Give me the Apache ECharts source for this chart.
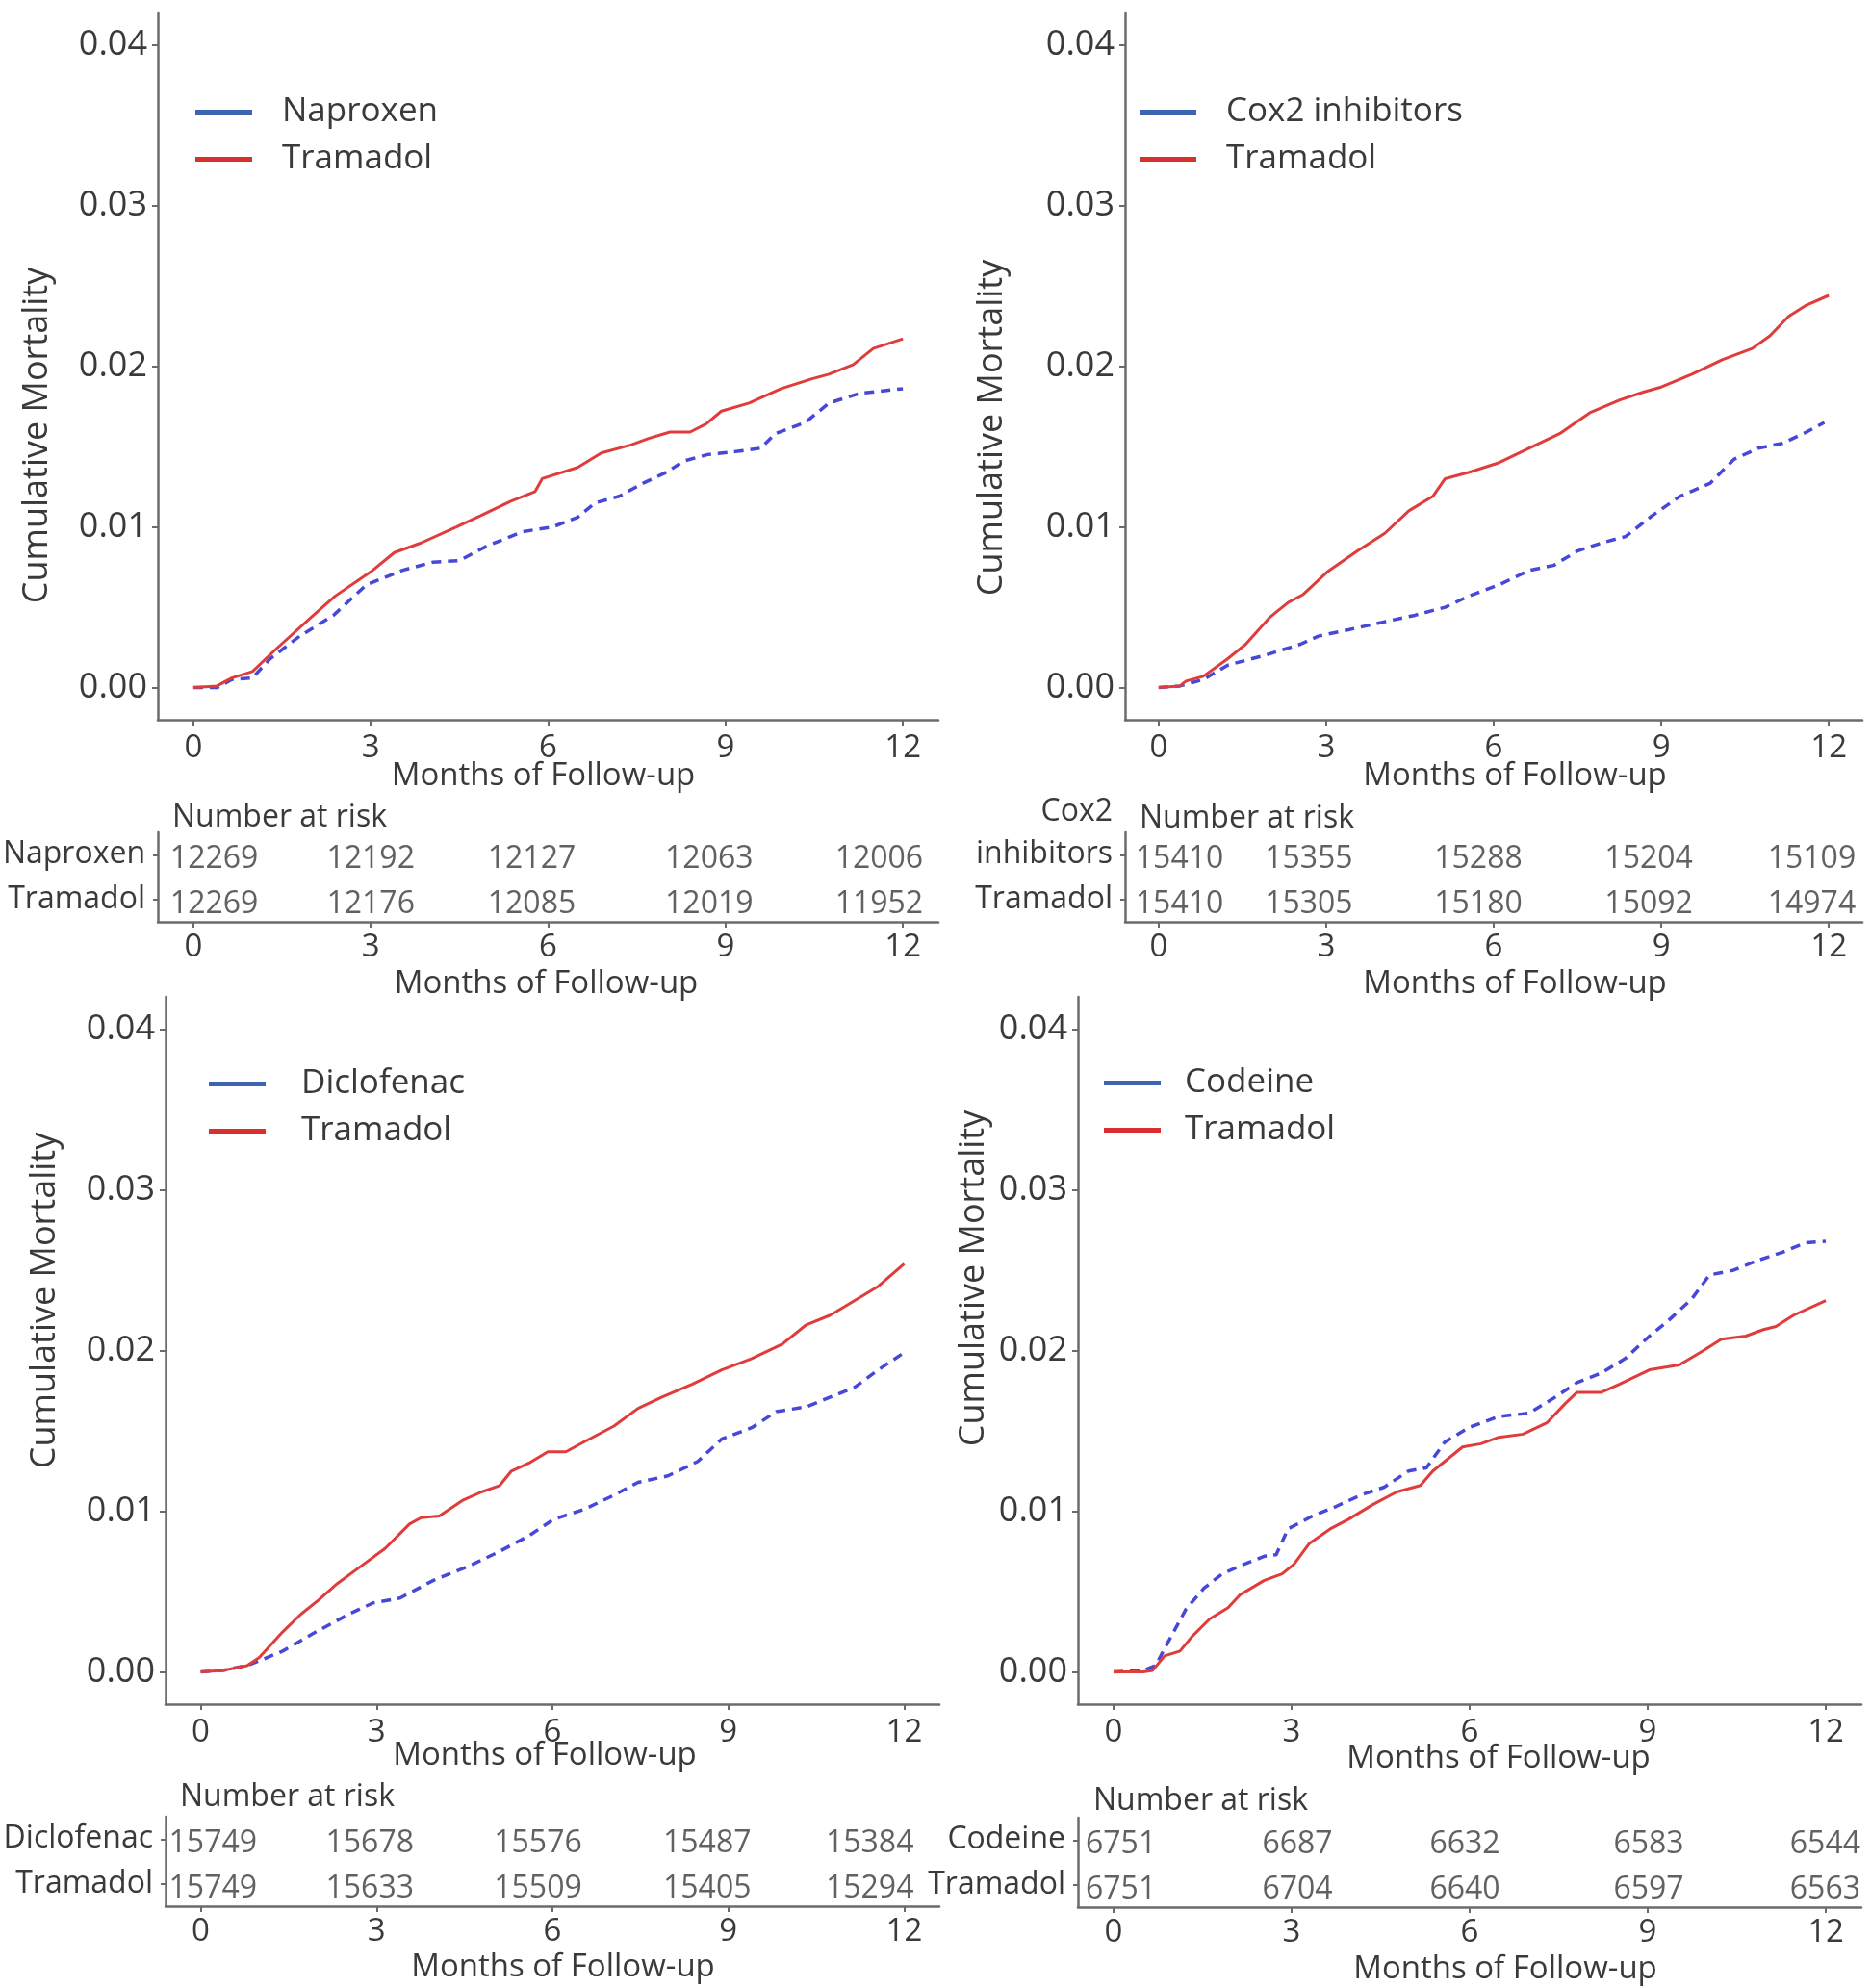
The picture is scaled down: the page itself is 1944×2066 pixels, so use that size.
<!DOCTYPE html>
<html><head><meta charset="utf-8">
<script src="https://cdn.jsdelivr.net/npm/echarts@6/dist/echarts.min.js"></script>
<style>html,body{margin:0;padding:0;background:#fff}#c{width:1944px;height:2066px}</style>
</head><body><div id="c"></div><script>
// ---------- data ----------
const monthTicks = [0, 3, 6, 9, 12];
const mortalityTicks = [0, 0.01, 0.02, 0.03, 0.04];

// Panel A
const naproxenCurve = [[0,0],[0.4,0],[0.65,0.0005],[1.0,0.0006],[1.3,0.0018],[1.8,0.0032],[2.37,0.0045],[2.93,0.0064],[3.54,0.0073],[4.05,0.0078],[4.5,0.0079],[4.96,0.0088],[5.57,0.0097],[6.08,0.0100],[6.5,0.0106],[6.8,0.0115],[7.2,0.0119],[7.6,0.0127],[8.0,0.0134],[8.3,0.0141],[8.7,0.0145],[9.2,0.0147],[9.6,0.0149],[9.84,0.0158],[10.35,0.0165],[10.75,0.0177],[11.26,0.0183],[12,0.0186]];
const tramadolCurveA = [[0,0],[0.4,0.0001],[0.65,0.0006],[1.0,0.0010],[1.4,0.0024],[2.0,0.0044],[2.4,0.0057],[3.0,0.0072],[3.4,0.0084],[3.85,0.0090],[4.45,0.0100],[4.86,0.0107],[5.37,0.0116],[5.78,0.0122],[5.9,0.0130],[6.5,0.0137],[6.9,0.0146],[7.4,0.0151],[7.7,0.0155],[8.06,0.0159],[8.4,0.0159],[8.67,0.0164],[8.93,0.0172],[9.4,0.0177],[9.94,0.0186],[10.45,0.0192],[10.75,0.0195],[11.16,0.0201],[11.5,0.0211],[12,0.0217]];
const naproxenRisk = [12269, 12192, 12127, 12063, 12006];
const tramadolRiskA = [12269, 12176, 12085, 12019, 11952];

// Panel B
const cox2Curve = [[0,0],[0.38,0.0001],[0.8,0.0005],[1.24,0.0014],[1.89,0.0020],[2.54,0.0027],[2.86,0.0032],[3.4,0.0036],[4.05,0.0041],[4.59,0.0045],[5.13,0.0050],[5.56,0.0057],[6.1,0.0064],[6.64,0.0073],[7.07,0.0076],[7.5,0.0085],[7.93,0.0090],[8.36,0.0094],[8.8,0.0106],[9.33,0.0119],[9.87,0.0127],[10.3,0.0142],[10.74,0.0149],[11.17,0.0152],[11.6,0.0159],[11.92,0.0165]];
const tramadolCurveB = [[0,0],[0.38,0.0001],[0.49,0.0004],[0.8,0.0007],[1.24,0.0018],[1.56,0.0027],[2.0,0.0044],[2.32,0.0053],[2.59,0.0058],[3.02,0.0072],[3.56,0.0085],[4.05,0.0096],[4.48,0.0110],[4.91,0.0119],[5.13,0.0130],[5.56,0.0134],[6.1,0.0140],[6.64,0.0149],[7.18,0.0158],[7.72,0.0171],[8.26,0.0179],[8.69,0.0184],[9.0,0.0187],[9.55,0.0195],[10.09,0.0204],[10.63,0.0211],[10.95,0.0219],[11.28,0.0231],[11.6,0.0238],[12,0.0244]];
const cox2Risk = [15410, 15355, 15288, 15204, 15109];
const tramadolRiskB = [15410, 15305, 15180, 15092, 14974];

// Panel C
const diclofenacCurve = [[0,0],[0.38,0.0001],[0.79,0.0004],[1.0,0.0007],[1.4,0.0013],[1.92,0.0024],[2.53,0.0036],[2.94,0.0043],[3.4,0.0046],[3.97,0.0057],[4.58,0.0066],[5.1,0.0075],[5.61,0.0085],[6.02,0.0095],[6.53,0.0101],[7.05,0.0110],[7.46,0.0118],[7.97,0.0122],[8.48,0.0131],[8.89,0.0145],[9.4,0.0152],[9.82,0.0162],[10.33,0.0165],[10.74,0.0171],[11.15,0.0177],[11.56,0.0188],[11.97,0.0198]];
const tramadolCurveC = [[0,0],[0.38,0.0001],[0.79,0.0004],[1.0,0.0009],[1.4,0.0025],[1.71,0.0036],[2.02,0.0045],[2.33,0.0055],[2.74,0.0066],[3.15,0.0077],[3.56,0.0092],[3.76,0.0096],[4.07,0.0097],[4.48,0.0107],[4.79,0.0112],[5.1,0.0116],[5.3,0.0125],[5.6,0.0130],[5.92,0.0137],[6.23,0.0137],[6.53,0.0143],[7.05,0.0153],[7.46,0.0164],[7.87,0.0171],[8.38,0.0179],[8.89,0.0188],[9.4,0.0195],[9.92,0.0204],[10.33,0.0216],[10.74,0.0222],[11.15,0.0231],[11.56,0.0240],[12,0.0254]];
const diclofenacRisk = [15749, 15678, 15576, 15487, 15384];
const tramadolRiskC = [15749, 15633, 15509, 15405, 15294];

// Panel D
const codeineCurve = [[0,0],[0.5,0.0001],[0.71,0.0004],[0.91,0.0018],[1.22,0.0039],[1.52,0.0052],[1.83,0.0061],[2.13,0.0066],[2.54,0.0072],[2.74,0.0073],[2.94,0.0089],[3.35,0.0097],[3.75,0.0103],[4.16,0.0110],[4.56,0.0115],[4.97,0.0125],[5.27,0.0127],[5.58,0.0143],[5.98,0.0152],[6.49,0.0159],[7.0,0.0161],[7.4,0.0170],[7.81,0.0180],[8.22,0.0186],[8.62,0.0195],[9.03,0.0209],[9.33,0.0218],[9.74,0.0232],[10.04,0.0247],[10.45,0.0250],[10.85,0.0256],[11.26,0.0261],[11.66,0.0267],[12,0.0268]];
const tramadolCurveD = [[0,0],[0.5,0],[0.66,0.0001],[0.86,0.0010],[1.12,0.0013],[1.32,0.0022],[1.62,0.0033],[1.93,0.0040],[2.13,0.0048],[2.54,0.0057],[2.84,0.0061],[3.04,0.0067],[3.3,0.0080],[3.65,0.0089],[3.96,0.0095],[4.36,0.0104],[4.77,0.0112],[5.17,0.0116],[5.38,0.0125],[5.68,0.0134],[5.88,0.0140],[6.19,0.0142],[6.49,0.0146],[6.9,0.0148],[7.3,0.0155],[7.61,0.0167],[7.81,0.0174],[8.22,0.0174],[8.52,0.0179],[9.03,0.0188],[9.53,0.0191],[9.94,0.0200],[10.24,0.0207],[10.65,0.0209],[10.95,0.0213],[11.16,0.0215],[11.46,0.0222],[12,0.0231]];
const codeineRisk = [6751, 6687, 6632, 6583, 6544];
const tramadolRiskD = [6751, 6704, 6640, 6597, 6563];

const comparatorNames = ['Naproxen', 'Cox2 inhibitors', 'Diclofenac', 'Codeine'];
const referenceName = 'Tramadol';

// ---------- layout ----------
const FONT = 'Open Sans';
const AX = '#6b6b6b';
const TXT = '#3a3a3a';
const BLUE_LINE = '#4848d8';
const BLUE_KEY = '#3d64b0';
const RED = '#e03c3c';
const RISK_ALIGN = ['left', 'center', 'center', 'center', 'right'];

const panels = [
  { comp: comparatorNames[0], compCurve: naproxenCurve, refCurve: tramadolCurveA, compRisk: naproxenRisk, refRisk: tramadolRiskA,
    grid: {left:164, width:811, top:13, height:735}, table: {top:865, height:93},
    legend: {left:203, top:99, gap:26}, yNameGap:107, yNamePad:[0,144,0,0], xNamePad:[0,10,0,0], xNameGap:42,
    tNamePad:[0,4,0,0], tNameGap:48, risk: {left:179, top:834}, riskShift: [-24, 0, -17, -17, 21] },
  { comp: comparatorNames[1], compCurve: cox2Curve, refCurve: tramadolCurveB, compRisk: cox2Risk, refRisk: tramadolRiskB,
    grid: {left:1169, width:766, top:13, height:735}, table: {top:865, height:93},
    legend: {left:1184, top:99, gap:26}, yNameGap:120, yNamePad:[0,128,0,0], xNamePad:[0,0,0,44], xNameGap:42,
    tNamePad:[0,0,0,44], tNameGap:48, risk: {left:1184, top:835}, riskShift: [-24, -18, -16, -13, 28] },
  { comp: comparatorNames[2], compCurve: diclofenacCurve, refCurve: tramadolCurveC, compRisk: diclofenacRisk, refRisk: tramadolRiskC,
    grid: {left:172, width:804, top:1036, height:735}, table: {top:1888, height:93},
    legend: {left:217, top:1109, gap:32}, yNameGap:107, yNamePad:[0,0,0,104], xNamePad:[0,16,0,0], xNameGap:37,
    tNamePad:[0,0,0,22], tNameGap:47, risk: {left:187, top:1852}, riskShift: [-33, -7, -15, -22, 10] },
  { comp: comparatorNames[3], compCurve: codeineCurve, refCurve: tramadolCurveD, compRisk: codeineRisk, refRisk: tramadolRiskD,
    grid: {left:1120, width:814, top:1036, height:735}, table: {top:1889, height:93},
    legend: {left:1147, top:1108, gap:20}, yNameGap:90, yNamePad:[0,0,0,150], xNamePad:[0,0,0,60], xNameGap:40,
    tNamePad:[0,0,0,74], tNameGap:48, risk: {left:1136, top:1856}, riskShift: [-29, 6, -5, 1, 36] }
];

const grid = [], xAxis = [], yAxis = [], series = [], legend = [], title = [];
const axisLineStyle = {color: AX, width: 2.5};

panels.forEach((p) => {
  grid.push(Object.assign({}, p.grid, {outerBoundsMode: 'none', containLabel: false}));
});
panels.forEach((p) => {
  grid.push({left: p.grid.left, width: p.grid.width, top: p.table.top, height: p.table.height, outerBoundsMode: 'none', containLabel: false});
});

function monthAxis(gi, nameGap, namePad, labelMargin) {
  return {
    type: 'value', gridIndex: gi, min: -0.6, max: 12.6,
    axisLine: {show: true, onZero: false, lineStyle: axisLineStyle},
    axisTick: {show: true, length: 6, customValues: monthTicks, lineStyle: {color: AX, width: 2}},
    axisLabel: {show: true, customValues: monthTicks, fontSize: 33, color: TXT, fontFamily: FONT, margin: labelMargin,
      showMinLabel: true, showMaxLabel: true, hideOverlap: false},
    splitLine: {show: false},
    name: 'Months of Follow-up', nameLocation: 'middle', nameGap: nameGap, nameMoveOverlap: false,
    nameTextStyle: {fontSize: 33, color: TXT, fontFamily: FONT, padding: namePad}
  };
}

panels.forEach((p, i) => {
  xAxis.push(monthAxis(i, p.xNameGap, p.xNamePad, 13));
  yAxis.push({
    type: 'value', gridIndex: i, min: -0.002, max: 0.042,
    axisLine: {show: true, onZero: false, lineStyle: axisLineStyle},
    axisTick: {show: true, length: 6, customValues: mortalityTicks, lineStyle: {color: AX, width: 2}},
    axisLabel: {show: true, customValues: mortalityTicks, formatter: v => Number(v).toFixed(2), fontSize: 36, color: TXT,
      fontFamily: FONT, margin: 11, showMinLabel: true, showMaxLabel: true},
    splitLine: {show: false},
    name: 'Cumulative Mortality', nameLocation: 'middle', nameGap: p.yNameGap, nameMoveOverlap: false,
    nameTextStyle: {fontSize: 36, color: TXT, fontFamily: FONT, padding: p.yNamePad}
  });
});

panels.forEach((p, i) => {
  xAxis.push(monthAxis(4 + i, p.tNameGap, p.tNamePad, 10));
  yAxis.push({
    type: 'category', gridIndex: 4 + i, data: [referenceName, p.comp], boundaryGap: true,
    axisLine: {show: true, onZero: false, lineStyle: axisLineStyle},
    axisTick: {show: true, alignWithLabel: true, length: 5, lineStyle: {color: AX, width: 2}},
    axisLabel: {show: true, fontSize: 32, color: TXT, fontFamily: FONT, margin: 13, lineHeight: 44, interval: 0,
      formatter: v => v === 'Cox2 inhibitors' ? 'Cox2\ninhibitors\n ' : v},
    splitLine: {show: false}
  });
});

panels.forEach((p, i) => {
  series.push({
    type: 'line', name: p.comp, xAxisIndex: i, yAxisIndex: i, data: p.compCurve,
    symbol: 'none', animation: false, silent: true, z: 2,
    lineStyle: {color: BLUE_LINE, width: 3.5, type: [10, 7]}, itemStyle: {color: BLUE_LINE}
  });
  series.push({
    type: 'line', name: referenceName, xAxisIndex: i, yAxisIndex: i, data: p.refCurve,
    symbol: 'none', animation: false, silent: true, z: 3,
    lineStyle: {color: RED, width: 3}, itemStyle: {color: RED}
  });
  const rows = [[p.comp, p.compRisk], [referenceName, p.refRisk]];
  const tableData = [];
  rows.forEach(([rowName, vals]) => {
    vals.forEach((n, j) => {
      tableData.push({
        value: [monthTicks[j], rowName, n],
        label: {align: RISK_ALIGN[j], offset: [p.riskShift[j], 5]}
      });
    });
  });
  series.push({
    type: 'scatter', xAxisIndex: 4 + i, yAxisIndex: 4 + i, data: tableData, symbolSize: 1,
    itemStyle: {color: 'rgba(0,0,0,0)'}, animation: false, silent: true,
    label: {show: true, position: 'inside', formatter: q => String(q.value[2]), fontSize: 32, color: TXT, fontFamily: FONT}
  });
  legend.push({
    orient: 'vertical', left: p.legend.left, top: p.legend.top, padding: 0, itemGap: 14,
    itemWidth: 59, itemHeight: 5, selectedMode: false,
    textStyle: {fontSize: 35, color: TXT, fontFamily: FONT, padding: [0, 0, 0, p.legend.gap]},
    data: [
      {name: p.comp, icon: 'rect', itemStyle: {color: BLUE_KEY}, lineStyle: {color: BLUE_KEY, width: 5, type: 'solid'}},
      {name: referenceName, icon: 'rect', itemStyle: {color: '#d9302f'}, lineStyle: {color: '#d9302f', width: 5, type: 'solid'}}
    ]
  });
  title.push({
    text: 'Number at risk', left: p.risk.left, top: p.risk.top, padding: 0,
    textStyle: {fontSize: 32, fontWeight: 'normal', color: TXT, fontFamily: FONT}
  });
});

const chart = echarts.init(document.getElementById('c'), null, {renderer: 'canvas'});
chart.setOption({
  backgroundColor: '#ffffff',
  animation: false,
  textStyle: {fontFamily: FONT},
  title, legend, grid, xAxis, yAxis, series
});
</script></body></html>
